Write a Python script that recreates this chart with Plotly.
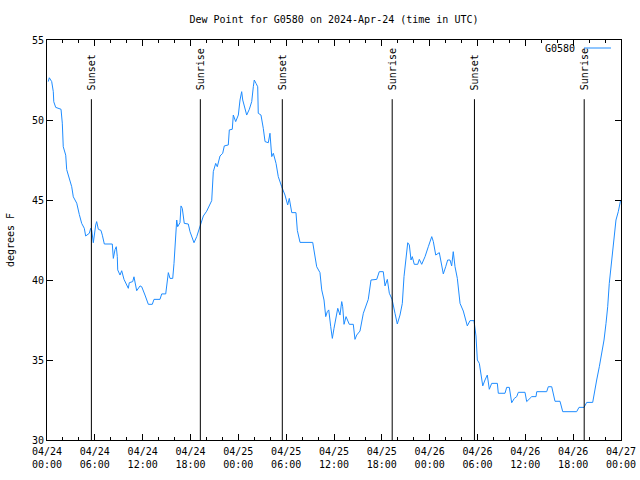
import pandas as pd
import plotly.graph_objects as go

# hours after 2024-04-24 00:00 UTC
hours = [0.16, 0.29, 0.59, 0.79, 0.85, 1.09, 1.76, 1.92, 2.04, 2.35, 2.47, 2.76, 3.10, 3.30, 3.73,
         4.05, 4.35, 4.68, 4.85, 5.31, 5.48, 5.61, 5.81, 6.11, 6.23, 6.44, 6.77, 6.94, 7.19, 8.19,
         8.32, 8.53, 8.69, 8.82, 8.87, 9.16, 9.37, 9.66, 10.20, 10.32, 10.75, 10.91, 11.25, 11.67,
         11.88, 12.29, 12.71, 13.21, 13.42, 14.17, 14.39, 14.89, 15.09, 15.22, 15.43, 15.77, 15.93,
         16.06, 16.14, 16.27, 16.39, 16.68, 16.81, 16.97, 17.22, 17.72, 17.94, 18.44, 18.78, 19.19,
         19.61, 20.03, 20.66, 20.86, 21.16, 21.36, 21.70, 22.04, 22.24, 22.74, 22.87, 23.24, 23.37,
         23.67, 24.00, 24.21, 24.42, 24.55, 24.84, 25.05, 25.38, 25.68, 25.88, 26.00, 26.22, 26.43,
         26.50, 26.84, 27.13, 27.35, 27.76, 27.97, 28.19, 28.39, 28.73, 29.01, 29.44, 29.85, 30.19,
         30.39, 30.70, 31.23, 31.40, 31.74, 33.33, 33.53, 33.83, 34.24, 34.46, 34.75, 34.96, 35.16,
         35.34, 35.59, 35.79, 36.00, 36.25, 36.47, 36.75, 36.97, 37.09, 37.26, 37.51, 37.92, 38.42,
         38.63, 38.85, 39.26, 39.68, 39.89, 40.30, 40.64, 41.36, 41.68, 42.18, 42.40, 42.69, 42.94,
         43.28, 43.65, 43.94, 44.28, 44.57, 44.78, 45.03, 45.25, 45.45, 45.66, 45.82, 46.07, 46.50,
         46.70, 47.00, 47.42, 47.83, 48.26, 48.46, 48.76, 49.21, 49.39, 49.71, 50.01, 50.26, 50.55,
         50.76, 50.96, 51.18, 51.47, 51.68, 51.81, 52.22, 52.56, 52.72, 53.06, 53.56, 53.81, 53.98,
         54.23, 54.44, 54.66, 54.94, 55.23, 55.48, 55.78, 56.49, 56.61, 57.45, 57.66, 57.99, 58.29,
         58.62, 58.92, 59.12, 59.96, 60.17, 60.50, 60.80, 61.34, 61.43, 62.68, 62.88, 63.31, 63.60,
         63.72, 64.35, 64.69, 66.44, 66.73, 67.36, 67.70, 68.45, 68.65, 68.95, 69.28, 69.58, 69.87,
         70.12, 70.33, 70.53, 70.75, 71.03, 71.37, 71.66, 71.96]
dewpoint = [52.40, 52.64, 52.40, 51.77, 51.14, 50.79, 50.67, 49.80, 48.33, 47.80, 46.90, 46.46, 45.83,
            45.20, 44.80, 44.10, 43.54, 43.23, 42.75, 42.92, 43.23, 43.10, 42.33, 43.44, 43.65, 43.17,
            43.10, 42.80, 42.25, 42.25, 41.35, 41.90, 42.08, 41.46, 40.63, 40.31, 40.58, 40.04, 39.48,
            39.83, 39.90, 40.20, 39.33, 39.63, 39.58, 39.06, 38.48, 38.48, 38.79, 38.79, 39.13, 39.13,
            39.83, 40.46, 40.10, 40.10, 41.04, 42.13, 43.23, 43.75, 43.33, 43.58, 44.63, 44.48, 43.54,
            43.50, 43.02, 42.33, 42.71, 43.33, 44.00, 44.30, 44.96, 46.77, 47.29, 47.08, 47.75, 47.92,
            48.38, 48.44, 49.38, 49.42, 50.31, 49.90, 50.31, 51.25, 51.77, 51.25, 50.73, 50.31, 50.67,
            51.15, 52.08, 52.50, 52.29, 52.08, 50.42, 50.31, 49.48, 48.65, 48.58, 49.17, 47.71, 47.92,
            47.29, 46.46, 45.83, 45.31, 44.69, 45.10, 44.21, 44.21, 43.10, 42.35, 42.35, 41.67, 40.83,
            40.46, 39.38, 38.75, 37.71, 38.02, 38.13, 37.08, 36.35, 36.98, 37.81, 38.23, 37.81, 38.65,
            38.33, 37.23, 37.71, 37.23, 37.23, 36.29, 36.56, 36.81, 37.92, 38.23, 38.79, 40.00, 40.04,
            40.52, 40.52, 39.63, 40.04, 39.17, 38.80, 37.92, 37.25, 37.81, 38.54, 40.21, 41.25, 42.33,
            42.19, 41.25, 41.46, 40.98, 40.98, 41.29, 40.98, 41.46, 42.08, 42.71, 42.40, 41.56, 41.71,
            41.15, 40.38, 40.83, 41.25, 41.25, 40.88, 41.77, 40.83, 40.10, 38.96, 38.54, 38.06, 37.50,
            37.13, 37.46, 37.46, 36.50, 35.00, 34.79, 33.96, 33.38, 33.75, 34.06, 33.17, 33.54, 33.54,
            32.92, 32.92, 33.29, 33.29, 32.33, 32.60, 32.71, 32.98, 32.98, 32.40, 32.60, 32.71, 32.71,
            33.02, 33.02, 33.33, 33.33, 32.71, 32.42, 32.42, 31.77, 31.77, 32.04, 32.04, 32.35, 32.35,
            33.02, 33.75, 34.58, 35.42, 36.25, 37.29, 38.33, 39.79, 40.83, 41.88, 43.75, 44.27, 45.00]

event_times = ["2024-04-24 05:34", "2024-04-24 19:14", "2024-04-25 05:31",
               "2024-04-25 19:18", "2024-04-26 05:37", "2024-04-26 19:23"]
event_names = ["Sunset", "Sunrise", "Sunset", "Sunrise", "Sunset", "Sunrise"]

tick_times = pd.date_range("2024-04-24 00:00", "2024-04-27 00:00", freq="6h")
y_ticks = [30, 35, 40, 45, 50, 55]

start = pd.Timestamp("2024-04-24 00:00")
times = [start + pd.Timedelta(hours=h) for h in hours]

FONT = "DejaVu Sans Mono"
LINE_COLOR = "#1E8CFF"

fig = go.Figure()
fig.add_trace(go.Scatter(x=times, y=dewpoint, mode="lines", name="G0580",
                         line=dict(color=LINE_COLOR, width=1), showlegend=False))

for t, name in zip(event_times, event_names):
    fig.add_shape(type="line", xref="x", yref="y", x0=t, x1=t, y0=30, y1=51.3,
                  line=dict(color="black", width=1))
    fig.add_annotation(x=t, y=51.75, xref="x", yref="y", text=name, textangle=-90,
                       showarrow=False, xanchor="center", yanchor="bottom",
                       font=dict(family=FONT, size=10, color="black"))

# legend (gnuplot style, top-right)
fig.add_annotation(xref="paper", yref="paper", x=(577 - 47) / 574, y=1 - (49 - 40) / 400,
                   text="G0580", showarrow=False, xanchor="right", yanchor="middle",
                   font=dict(family=FONT, size=10, color="black"))
fig.add_shape(type="line", xref="paper", yref="paper",
              x0=(584 - 47) / 574, x1=(611 - 47) / 574,
              y0=1 - (48 - 40) / 400, y1=1 - (48 - 40) / 400,
              line=dict(color=LINE_COLOR, width=1))

fig.update_layout(
    width=640, height=480,
    margin=dict(l=47, r=19, t=40, b=40),
    paper_bgcolor="white", plot_bgcolor="white",
    font=dict(family=FONT, size=10, color="black"),
    title=dict(text="Dew Point for G0580 on 2024-Apr-24 (time in UTC)",
               xref="paper", x=0.5, xanchor="center", y=1 - 19 / 480, yanchor="middle",
               font=dict(family=FONT, size=10, color="black")),
    showlegend=False,
)
fig.update_xaxes(
    type="date", automargin=False,
    range=[tick_times[0], tick_times[-1]],
    tickmode="array", tickvals=list(tick_times),
    ticktext=[t.strftime("%m/%d<br>%H:%M") for t in tick_times],
    ticks="inside", ticklen=6, tickcolor="black", tickwidth=1,
    ticklabelstandoff=2,
    minor=dict(dtick=2 * 3600 * 1000, ticks="inside", ticklen=3, tickcolor="black", showgrid=False),
    showline=True, linecolor="black", linewidth=1, mirror="allticks",
    showgrid=False, zeroline=False,
    tickfont=dict(family=FONT, size=10, color="black"),
)
fig.update_yaxes(
    range=[30, 55], tickmode="array", tickvals=y_ticks, automargin=False,
    ticks="inside", ticklen=6, tickcolor="black", tickwidth=1,
    showline=True, linecolor="black", linewidth=1, mirror="allticks",
    showgrid=False, zeroline=False,
    title=dict(text="degrees F", font=dict(family=FONT, size=10, color="black"), standoff=15),
    tickfont=dict(family=FONT, size=10, color="black"),
)

fig.write_html("out.html", config={"displayModeBar": False},
               post_script="document.body.style.margin='0';")
